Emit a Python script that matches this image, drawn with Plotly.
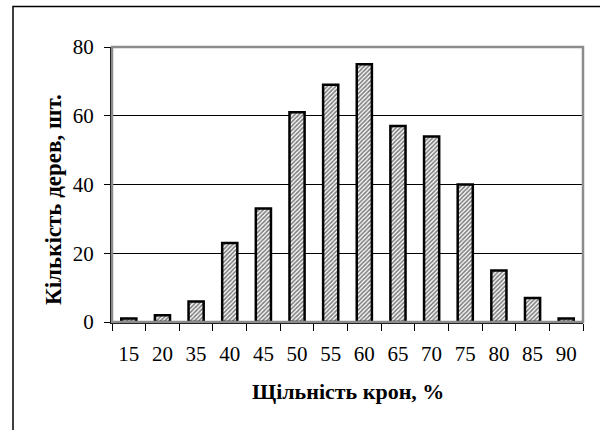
import plotly.graph_objects as go

categories = ["15", "20", "35", "40", "45", "50", "55", "60", "65", "70", "75", "80", "85", "90"]
counts = [1, 2, 6, 23, 33, 61, 69, 75, 57, 54, 40, 15, 7, 1]
y_ticks = [0, 20, 40, 60, 80]

x_title = "Щільність крон, %"
y_title = "Кількість дерев, шт."

FONT = "Liberation Serif"

W, H = 600, 430
L, R, T, B = 112, 17, 47, 108
pw, ph = W - L - R, H - T - B

fig = go.Figure()
fig.add_trace(go.Bar(
    x=categories, y=counts,
    marker=dict(
        color="white",
        line=dict(color="black", width=2.5),
        pattern=dict(shape="/", fgcolor="black", bgcolor="white", size=3, solidity=0.55),
    ),
    width=0.45,
))

fig.update_layout(
    width=W, height=H,
    margin=dict(l=L, r=R, t=T, b=B, pad=0),
    paper_bgcolor="white", plot_bgcolor="white",
    showlegend=False,
    font=dict(family=FONT, size=21, color="black"),
    xaxis=dict(
        type="category", tickson="boundaries",
        ticks="outside", ticklen=7, tickwidth=1, tickcolor="black",
        showline=True, linecolor="black", linewidth=2,
        showgrid=False, tickfont=dict(size=21, family=FONT),
        ticklabelstandoff=12,
    ),
    yaxis=dict(
        range=[0, 80], tickvals=y_ticks,
        ticks="outside", ticklen=6, tickwidth=1, tickcolor="black",
        showline=True, linecolor="black", linewidth=2,
        showgrid=True, gridcolor="black", gridwidth=1,
        zeroline=False, tickfont=dict(size=21, family=FONT),
        ticklabelstandoff=6,
    ),
    shapes=[
        dict(type="rect", xref="paper", yref="paper", x0=0, x1=1, y0=0, y1=1,
             line=dict(color="#8c8c8c", width=2.5), layer="above"),
        dict(type="rect", xref="paper", yref="paper",
             x0=(13 - L) / pw, x1=2, y0=-2, y1=(H - B - 6.5) / ph,
             line=dict(color="black", width=1.5), layer="above"),
    ],
    annotations=[
        dict(text="<b>" + x_title + "</b>", xref="paper", yref="paper",
             x=0.5, y=-(392 - (H - B)) / ph, xanchor="center", yanchor="middle",
             showarrow=False, font=dict(size=22, family=FONT)),
        dict(text="<b>" + y_title + "</b>", xref="paper", yref="paper",
             x=(53 - L) / pw, y=((H - B) - 200) / ph, xanchor="center", yanchor="middle",
             textangle=-90, showarrow=False, font=dict(size=23, family=FONT)),
    ],
)

fig.write_html("out.html")
